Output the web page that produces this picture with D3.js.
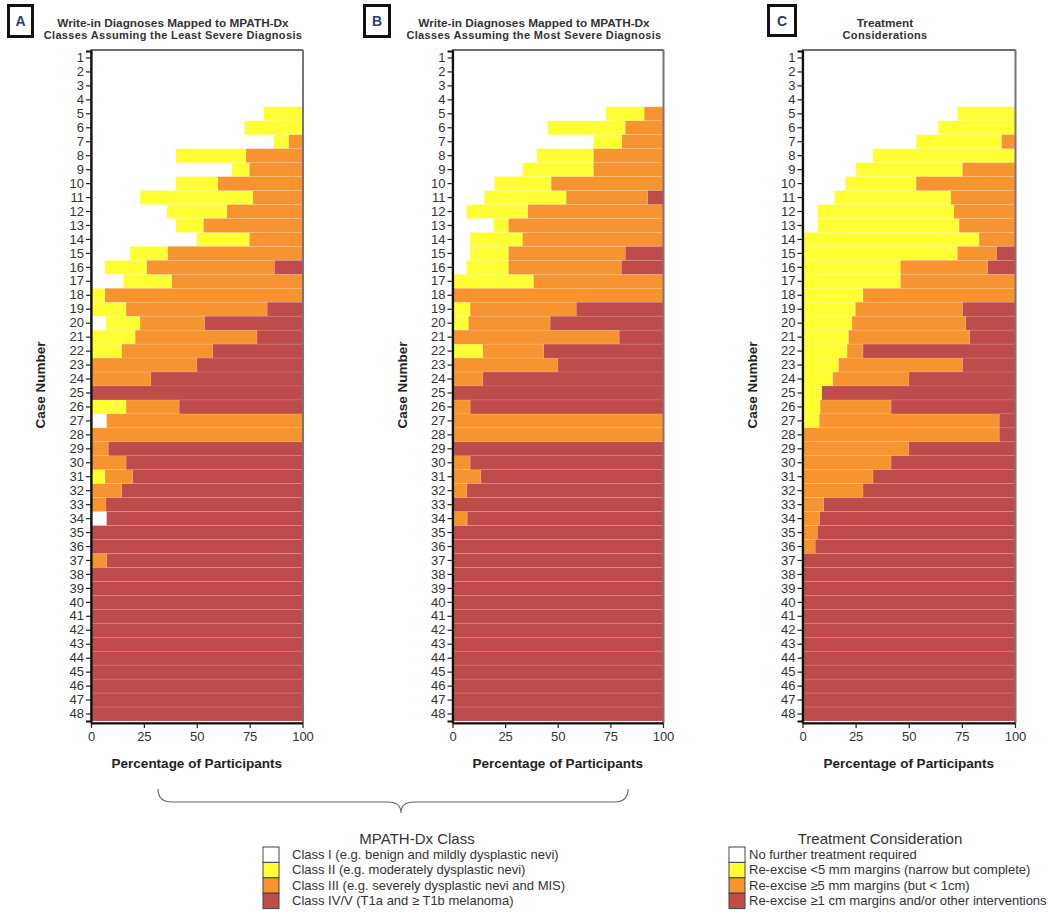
<!DOCTYPE html>
<html><head><meta charset="utf-8">
<script src="https://cdn.jsdelivr.net/npm/d3@7"></script>
<style>
body{margin:0;background:#fff;}
svg{display:block;font-family:"Liberation Sans",Arial,sans-serif;}
</style></head>
<body>
<svg id="chart" width="1050" height="918"></svg>
<script>
// ---------- DATA ----------
const cases = d3.range(1, 49);
const classLabels = ["Class I (e.g. benign and mildly dysplastic nevi)","Class II (e.g. moderately dysplastic nevi)","Class III (e.g. severely dysplastic nevi and MIS)","Class IV/V (T1a and \u2265 T1b melanoma)"];
const treatLabels = ["No further treatment required","Re-excise <5 mm margins (narrow but complete)","Re-excise \u22655 mm margins (but < 1cm)","Re-excise \u22651 cm margins and/or other interventions"];
const xTicks = [0, 25, 50, 75, 100];

// Panel A: least severe diagnosis
const aWhite  = [100,100,100,100,81.7,72.7,86.4,40.1,66.7,40.1,23.2,35.9,40.1,50.1,18.5,6.6,15.3,0,0,7.1,0,0,0,0,0,0,7.4,0,0,0,0,0,0,7.4,0,0,0,0,0,0,0,0,0,0,0,0,0,0];
const aYellow = [0,0,0,0,18.3,27.3,7.1,33.2,8.2,19.9,53.4,28.4,13.1,24.8,17.8,19.8,22.9,6.6,16.6,16.1,20.9,14.5,0,0,0,16.6,0,0,0,0,6.6,0,0,0,0,0,0,0,0,0,0,0,0,0,0,0,0,0];
const aOrange = [0,0,0,0,0,0,6.5,26.7,25.1,40.0,23.4,35.7,46.8,25.1,63.7,60.3,61.8,93.4,66.7,30.5,57.6,43.0,50.1,28.3,0,25.1,92.6,100,8.2,16.6,13.1,14.5,7.1,0,0,0,7.4,0,0,0,0,0,0,0,0,0,0,0];
const aRed    = [0,0,0,0,0,0,0,0,0,0,0,0,0,0,0,13.3,0,0,16.7,46.3,21.5,42.5,49.9,71.7,100,58.3,0,0,91.8,83.4,80.3,85.5,92.9,92.6,100,100,92.6,100,100,100,100,100,100,100,100,100,100,100];

// Panel B: most severe diagnosis
const bWhite  = [100,100,100,100,72.9,45.3,67.0,40.1,33.4,20.0,15.2,6.8,19.5,8.4,8.4,6.8,0,0,0,0,0,0,0,0,0,0,0,0,0,0,0,0,0,0,0,0,0,0,0,0,0,0,0,0,0,0,0,0];
const bYellow = [0,0,0,0,18.2,36.8,13.5,26.9,33.6,26.9,38.8,29.0,7.1,24.9,18.2,19.8,38.5,0,8.4,7.6,0,14.4,0,0,0,0,0,0,0,0,0,0,0,0,0,0,0,0,0,0,0,0,0,0,0,0,0,0];
const bOrange = [0,0,0,0,8.9,17.9,19.5,33.0,33.0,53.1,38.7,64.2,73.4,66.7,55.5,53.6,61.5,100,50.4,38.8,79.2,28.9,50.1,14.4,0,8.4,100,100,0,8.4,13.5,6.8,0,7.0,0,0,0,0,0,0,0,0,0,0,0,0,0,0];
const bRed    = [0,0,0,0,0,0,0,0,0,0,7.3,0,0,0,17.9,19.8,0,0,41.2,53.6,20.8,56.7,49.9,85.6,100,91.6,0,0,100,91.6,86.5,93.2,100,93.0,100,100,100,100,100,100,100,100,100,100,100,100,100,100];

// Panel C: treatment considerations
const cWhite  = [100,100,100,100,72.9,63.9,53.5,33.2,25.2,20.2,15.1,7.1,7.1,0,0,0,0,0,0,0,0,0,0,0,0,0,0,0,0,0,0,0,0,0,0,0,0,0,0,0,0,0,0,0,0,0,0,0];
const cYellow = [0,0,0,0,27.1,36.1,40.2,66.8,50.1,33.3,54.7,64.2,66.6,83.1,72.9,46.1,46.1,28.5,24.9,23.3,21.7,21.0,17.0,14.3,9.1,8.3,7.9,0,0,0,0,0,0,0,0,0,0,0,0,0,0,0,0,0,0,0,0,0];
const cOrange = [0,0,0,0,0,0,6.3,0,24.7,46.5,30.2,28.7,26.3,16.9,18.4,41.0,53.9,71.5,50.4,53.6,57.0,7.5,58.3,35.8,0,33.4,84.7,92.6,50.1,41.7,33.2,28.5,10.0,8.0,7.0,6.0,0,0,0,0,0,0,0,0,0,0,0,0];
const cRed    = [0,0,0,0,0,0,0,0,0,0,0,0,0,0,8.7,12.9,0,0,24.7,23.1,21.3,71.5,24.7,49.9,90.9,58.3,7.4,7.4,49.9,58.3,66.8,71.5,90.0,92.0,93.0,94.0,100,100,100,100,100,100,100,100,100,100,100,100];

// ---------- STYLE / LAYOUT ----------
const colors = ["#ffffff", "#ffff33", "#f7942f", "#bf4b4a"];
const keys = ["c1", "c2", "c3", "c4"];
const panels = [
  {letter:"A", series:[aWhite,aYellow,aOrange,aRed], x0:91, x1:302.5, box:[7,4,27,34], t1:"Write-in Diagnoses Mapped to MPATH-Dx", t2:"Classes Assuming the Least Severe Diagnosis", tcx:173},
  {letter:"B", series:[bWhite,bYellow,bOrange,bRed], x0:452.5, x1:663, box:[363,4,28,34], t1:"Write-in Diagnoses Mapped to MPATH-Dx", t2:"Classes Assuming the Most Severe Diagnosis", tcx:534},
  {letter:"C", series:[cWhite,cYellow,cOrange,cRed], x0:802.5, x1:1015, box:[767,4,30,33], t1:"Treatment", t2:"Considerations", tcx:885}
];
const plotTop = 51, plotBottom = 721, axisY = 723;

const svg = d3.select("#chart");

panels.forEach(p => {
  const g = svg.append("g");
  const x = d3.scaleLinear().domain([0, 100]).range([p.x0, p.x1]);
  const y = d3.scaleBand().domain(cases).range([plotTop, plotBottom]).padding(0);

  const rows = cases.map((c, i) => {
    const r = {case: c};
    keys.forEach((k, j) => r[k] = p.series[j][i]);
    return r;
  });
  const stack = d3.stack().keys(keys)(rows);

  // frame
  g.append("rect").attr("x", p.x0).attr("y", plotTop - 1).attr("width", p.x1 - p.x0).attr("height", axisY - plotTop + 1)
    .attr("fill", "#fff").attr("stroke", "#333").attr("stroke-width", 1.4);

  stack.forEach((layer, j) => {
    g.append("g").selectAll("rect").data(layer).join("rect")
      .attr("x", d => x(d[0]))
      .attr("width", d => Math.max(0, x(d[1]) - x(d[0])))
      .attr("y", d => y(d.data.case))
      .attr("height", y.bandwidth())
      .attr("fill", colors[j])
      .attr("stroke", j === 0 ? "none" : "rgba(255,255,255,0.18)")
      .attr("stroke-width", 0.6);
  });

  // right border emphasis
  g.append("line").attr("x1", p.x1 + 0.5).attr("x2", p.x1 + 0.5).attr("y1", plotTop - 1).attr("y2", axisY)
    .attr("stroke", "#777").attr("stroke-width", 2);

  // y axis
  const ya = g.append("g").attr("transform", `translate(${p.x0},0)`)
    .call(d3.axisLeft(y).tickSize(5).tickPadding(2));
  ya.select(".domain").attr("stroke", "#111").attr("stroke-width", 2.2);
  ya.selectAll(".tick line").attr("stroke", "#222").attr("stroke-width", 1.2);
  ya.selectAll("text").attr("font-size", 13).attr("fill", "#333").attr("font-family", "Liberation Sans, Arial");

  // x axis
  const xa = g.append("g").attr("transform", `translate(0,${axisY})`)
    .call(d3.axisBottom(x).tickValues(xTicks).tickSize(5).tickPadding(4).tickSizeOuter(0));
  xa.select(".domain").attr("stroke", "#111").attr("stroke-width", 2);
  xa.selectAll(".tick line").attr("stroke", "#222").attr("stroke-width", 1.2);
  xa.selectAll("text").attr("font-size", 13).attr("fill", "#333").attr("font-family", "Liberation Sans, Arial");

  // axis titles
  g.append("text").attr("x", (p.x0 + p.x1) / 2).attr("y", 768).attr("text-anchor", "middle")
    .attr("font-size", 13.5).attr("font-weight", "bold").attr("fill", "#222").text("Percentage of Participants");
  g.append("text").attr("transform", `translate(${p.x0 - 46},385) rotate(-90)`).attr("text-anchor", "middle")
    .attr("font-size", 13.5).attr("font-weight", "bold").attr("fill", "#222").text("Case Number");

  // titles
  g.append("text").attr("x", p.tcx).attr("y", 27).attr("text-anchor", "middle")
    .attr("font-size", 11.8).attr("font-weight", "bold").attr("fill", "#333").text(p.t1);
  g.append("text").attr("x", p.tcx).attr("y", 39).attr("text-anchor", "middle")
    .attr("font-size", 11).attr("font-weight", "bold").attr("letter-spacing", 0.35).attr("fill", "#333").text(p.t2);

  // letter box
  const [bx, by, bw, bh] = p.box;
  g.append("rect").attr("x", bx + 1.5).attr("y", by + 1.5).attr("width", bw - 3).attr("height", bh - 3)
    .attr("fill", "#fff").attr("stroke", "#111").attr("stroke-width", 3);
  g.append("text").attr("x", bx + bw / 2).attr("y", by + bh / 2 + 5).attr("text-anchor", "middle")
    .attr("font-size", 14).attr("font-weight", "bold").attr("fill", "#2e3d6e").text(p.letter);
});

// brace
svg.append("path")
  .attr("d", "M158,789 Q158,802 172,802 L388,802 Q401,802 401,813 Q401,802 414,802 L614,802 Q628,802 628,789")
  .attr("fill", "none").attr("stroke", "#666").attr("stroke-width", 1.1);

// legends
function legend(cx, x0, gap, title, labels) {
  const g = svg.append("g");
  g.append("text").attr("x", cx).attr("y", 844).attr("text-anchor", "middle")
    .attr("font-size", 15).attr("fill", "#333").text(title);
  const sy = 847, sh = 15.4;
  labels.forEach((l, i) => {
    g.append("rect").attr("x", x0).attr("y", sy + i * sh).attr("width", 16).attr("height", sh)
      .attr("fill", colors[i]).attr("stroke", "#444").attr("stroke-width", 1);
    g.append("text").attr("x", x0 + gap).attr("y", sy + i * sh + 12).attr("font-size", 13)
      .attr("fill", "#333").text(l);
  });
}
legend(417, 263, 29, "MPATH-Dx Class", classLabels);
legend(880, 729, 20, "Treatment Consideration", treatLabels);
</script>
</body></html>
